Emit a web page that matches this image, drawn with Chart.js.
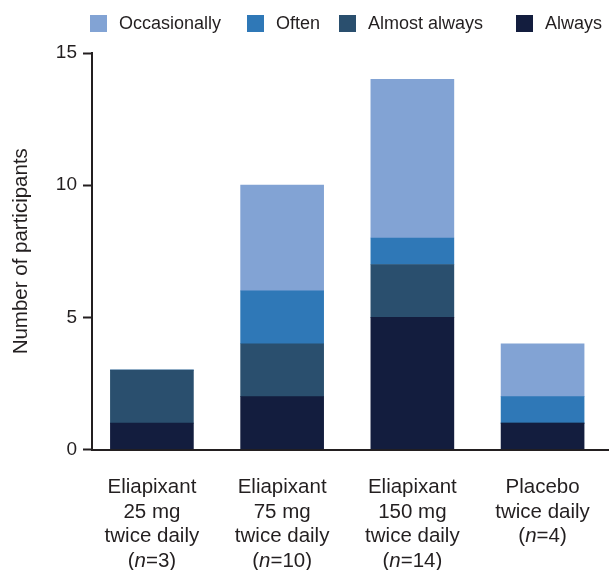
<!DOCTYPE html>
<html>
<head>
<meta charset="utf-8">
<script src="https://cdn.jsdelivr.net/npm/chart.js@4.4.1/dist/chart.umd.min.js"></script>
<style>
  html, body { margin: 0; padding: 0; background: #ffffff; }
  #wrap { width: 609px; height: 570px; }
</style>
</head>
<body>
<div id="wrap"><canvas id="c" width="609" height="570"></canvas></div>
<script>
// ---- Data ----
const categories = ["Eliapixant 25 mg twice daily", "Eliapixant 75 mg twice daily", "Eliapixant 150 mg twice daily", "Placebo twice daily"];
const categoryLines = [
  ["Eliapixant", "25 mg", "twice daily"],
  ["Eliapixant", "75 mg", "twice daily"],
  ["Eliapixant", "150 mg", "twice daily"],
  ["Placebo", "twice daily"]
];
const groupSizes = [3, 10, 14, 4];
const seriesNames = ["Always", "Almost always", "Often", "Occasionally"];
const always = [1, 2, 5, 1];
const almostAlways = [2, 2, 2, 0];
const often = [0, 2, 1, 1];
const occasionally = [0, 4, 6, 2];
const yTicks = [0, 5, 10, 15];
const legendOrder = ["Occasionally", "Often", "Almost always", "Always"];

// ---- Styles ----
const seriesColors = {
  "Always": "#131d3e",
  "Almost always": "#2a4f6e",
  "Often": "#2f78b7",
  "Occasionally": "#82a3d4"
};
const textColor = "#231f20";
const FONT = "'Liberation Sans', Arial, Helvetica, sans-serif";
const legendX = [90, 247, 339, 516];

const seriesValues = [always, almostAlways, often, occasionally];
const datasets = seriesNames.map((name, s) => ({
  label: name,
  data: seriesValues[s].map((v, i) => ({ x: i, y: v })),
  backgroundColor: seriesColors[name],
  borderWidth: 0,
  barThickness: 83
}));

const customLegend = {
  id: 'customLegend',
  afterDraw(chart) {
    const ctx = chart.ctx;
    ctx.save();
    ctx.font = "18px " + FONT;
    ctx.textBaseline = 'middle';
    ctx.textAlign = 'left';
    legendOrder.forEach((name, k) => {
      const x = legendX[k];
      ctx.fillStyle = seriesColors[name];
      ctx.fillRect(x, 15, 17, 17);
      ctx.fillStyle = textColor;
      ctx.fillText(name, x + 29, 24);
    });
    ctx.restore();
  }
};

const xLabels = {
  id: 'xLabels',
  afterDraw(chart) {
    const ctx = chart.ctx;
    const xs = chart.scales.x;
    const base = chart.chartArea.bottom + 43.5;
    const lh = 24.7;
    const normal = "20.5px " + FONT;
    const italic = "italic 20.5px " + FONT;
    ctx.save();
    ctx.fillStyle = textColor;
    ctx.textBaseline = 'alphabetic';
    categories.forEach((cat, i) => {
      const cx = xs.getPixelForValue(i);
      const lines = categoryLines[i];
      ctx.font = normal;
      ctx.textAlign = 'center';
      lines.forEach((ln, k) => ctx.fillText(ln, cx, base + k * lh));
      const y = base + lines.length * lh;
      const parts = [["(", normal], ["n", italic], ["=" + groupSizes[i] + ")", normal]];
      let total = 0;
      parts.forEach(p => { ctx.font = p[1]; total += ctx.measureText(p[0]).width; });
      let x = cx - total / 2;
      ctx.textAlign = 'left';
      parts.forEach(p => { ctx.font = p[1]; ctx.fillText(p[0], x, y); x += ctx.measureText(p[0]).width; });
    });
    ctx.restore();
  }
};

new Chart(document.getElementById('c'), {
  type: 'bar',
  data: { datasets },
  plugins: [customLegend, xLabels],
  options: {
    responsive: false,
    animation: false,
    events: [],
    layout: { padding: { top: 53, left: 9, right: 0, bottom: 0 } },
    plugins: { legend: { display: false }, tooltip: { enabled: false } },
    scales: {
      x: {
        type: 'linear',
        stacked: true,
        offset: false,
        min: -0.46,
        max: 3.51,
        ticks: { display: false },
        grid: { display: false, drawTicks: false, offset: false },
        border: { display: true, color: textColor, width: 2 },
        afterFit: s => { s.height = 120.5; }
      },
      y: {
        stacked: true,
        min: 0,
        max: 15,
        afterBuildTicks: s => { s.ticks = yTicks.map(v => ({ value: v })); },
        ticks: { color: textColor, font: { size: 19, family: FONT }, padding: 6 },
        grid: { display: true, drawOnChartArea: false, drawTicks: true, tickLength: 9, tickWidth: 2, tickColor: textColor },
        border: { display: true, color: textColor, width: 2 },
        title: {
          display: true,
          text: 'Number of participants',
          color: textColor,
          font: { size: 20.5, family: FONT },
          padding: { top: 0, bottom: 0 }
        },
        afterFit: s => { s.width = 92 - 9; }
      }
    }
  }
});
</script>
</body>
</html>
